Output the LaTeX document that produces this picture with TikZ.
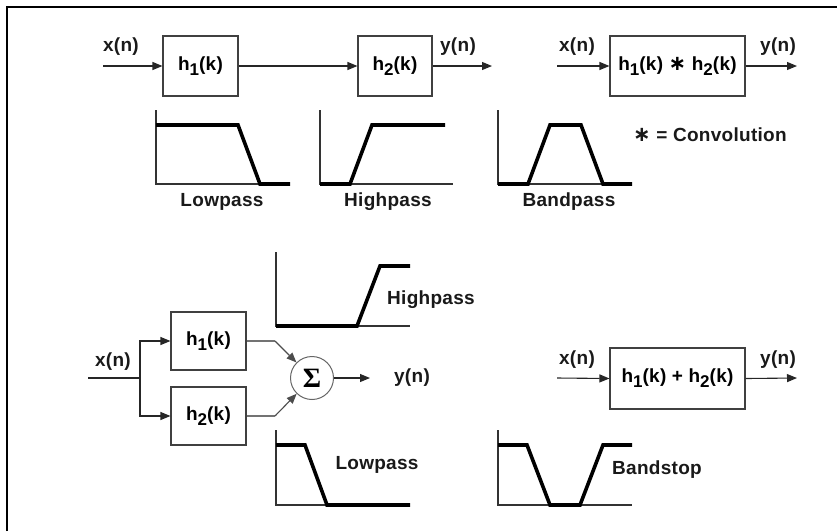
\documentclass[tikz,border=0pt]{standalone}
\usepackage{fontspec}
\setmainfont{Liberation Sans}[LetterSpace=1.5]
\newfontfamily\symfont{DejaVu Sans}
\newfontfamily\sigfont{Liberation Serif}
\usetikzlibrary{arrows.meta}
\newcommand{\sbs}[1]{\raisebox{-5pt}{\fontsize{17}{17}\selectfont #1}}
\newcommand{\cstar}{{\symfont\bfseries\fontsize{21}{20}\selectfont ∗}}
\tikzset{
  lbl/.style={font=\fontsize{19}{22}\selectfont\bfseries, inner sep=0pt, text=black!90},
  blk/.style={draw=black!75, line width=1.1pt, inner sep=0pt, font=\fontsize{19}{22}\selectfont\bfseries},
  arr/.style={-{Triangle[length=10pt,width=8pt]}, line width=1.1pt, black!85},
  gline/.style={line width=1.1pt, black!55},
  axis/.style={line width=1.1pt, black!80},
  resp/.style={line width=3.6pt, black, line join=miter},
}
\begin{document}
\begin{tikzpicture}[x=1pt,y=-1pt]
\useasboundingbox (0,0) rectangle (837,531);
% frame
\draw[line width=2.4pt] (7,531) -- (7,7) -- (837,7);

% ---- top cascade ----
\node[blk, minimum width=75, minimum height=60] (ta) at (200.5,66) {h\sbs{1}(k)};
\node[blk, minimum width=74, minimum height=60] (tb) at (395,66) {h\sbs{2}(k)};
\coordinate (tin) at (103,66);
\coordinate (tout) at (492,66);
\draw[arr] (tin) -- (ta.west);
\draw[arr] (ta.east) -- (tb.west);
\draw[arr] (tb.east) -- (tout);
\node[lbl] (tx) at (121,47) {x(n)};
\node[lbl] (ty) at (458,47) {y(n)};

% ---- top equivalent ----
\node[blk, minimum width=135, minimum height=60] (tc) at (677.5,66) {h\sbs{1}(k) \cstar{} h\sbs{2}(k)};
\coordinate (cin) at (557,66);
\coordinate (cout) at (797,66);
\draw[arr] (cin) -- (tc.west);
\draw[arr] (tc.east) -- (cout);
\node[lbl] (cx) at (577,47) {x(n)};
\node[lbl] (cy) at (778,47) {y(n)};
\node[lbl, anchor=west] (conv) at (633,135) {\cstar{} = Convolution};

% ---- top responses ----
\draw[axis] (156,110) -- (156,184) -- (290,184);
\draw[resp] (156,125) -- (238,125) -- (260,184) -- (290,184);
\node[lbl] (lp1) at (222,202) {Lowpass};

\draw[axis] (320,110) -- (320,184) -- (453,184);
\draw[resp] (320,184) -- (350,184) -- (372,125) -- (445,125);
\node[lbl] (hp1) at (388,202) {Highpass};

\draw[axis] (498,110) -- (498,184) -- (632,184);
\draw[resp] (498,184) -- (528,184) -- (550,125) -- (581,125) -- (603,184) -- (632,184);
\node[lbl] (bp1) at (569,202) {Bandpass};

% ---- parallel ----
\node[blk, minimum width=75, minimum height=58] (pa) at (208.5,341) {h\sbs{1}(k)};
\node[blk, minimum width=75, minimum height=58] (pb) at (208.5,416) {h\sbs{2}(k)};
\node[draw=black!60, line width=1pt, circle, minimum size=43, inner sep=0pt, font=\sigfont\bfseries\fontsize{28}{28}\selectfont] (sum) at (312,378) {Σ};
\coordinate (pin) at (88,378);
\coordinate (br) at (140,378);
\coordinate (ka) at (275,341);
\coordinate (kb) at (275,416);
\coordinate (pout) at (370,378);
\draw[line width=1.1pt, black!85] (pin) -- (br);
\draw[arr] (br) |- (pa.west);
\draw[arr] (br) |- (pb.west);
\draw[gline] (pa.east) -- (ka);
\draw[gline] (pb.east) -- (kb);
\draw[arr, black!70] (ka) -- (sum);
\draw[arr, black!70] (kb) -- (sum);
\draw[arr] (sum.east) -- (pout);
\node[lbl] (px) at (113,362) {x(n)};
\node[lbl] (py) at (412,378) {y(n)};

% bottom-left responses
\draw[axis] (276,252) -- (276,326) -- (410,326);
\draw[resp] (276,326) -- (357,326) -- (380,266) -- (410,266);
\node[lbl] (hp2) at (431,300) {Highpass};

\draw[axis] (276,430) -- (276,505) -- (410,505);
\draw[resp] (276,445) -- (305,445) -- (327,505) -- (410,505);
\node[lbl] (lp2) at (377,465) {Lowpass};

% ---- bottom equivalent ----
\node[blk, minimum width=135, minimum height=61] (sc) at (677.5,378.5) {h\sbs{1}(k) + h\sbs{2}(k)};
\coordinate (sin) at (557,378);
\coordinate (sout) at (797,378);
\draw[arr] (sin) -- (sc.west);
\draw[arr] (sc.east) -- (sout);
\node[lbl] (sx) at (577,360) {x(n)};
\node[lbl] (sy) at (778,360) {y(n)};

\draw[axis] (498,430) -- (498,505) -- (632,505);
\draw[resp] (498,445) -- (527,445) -- (550,505) -- (580,505) -- (603,445) -- (632,445);
\node[lbl] (bs) at (657,470) {Bandstop};
\end{tikzpicture}
\end{document}
